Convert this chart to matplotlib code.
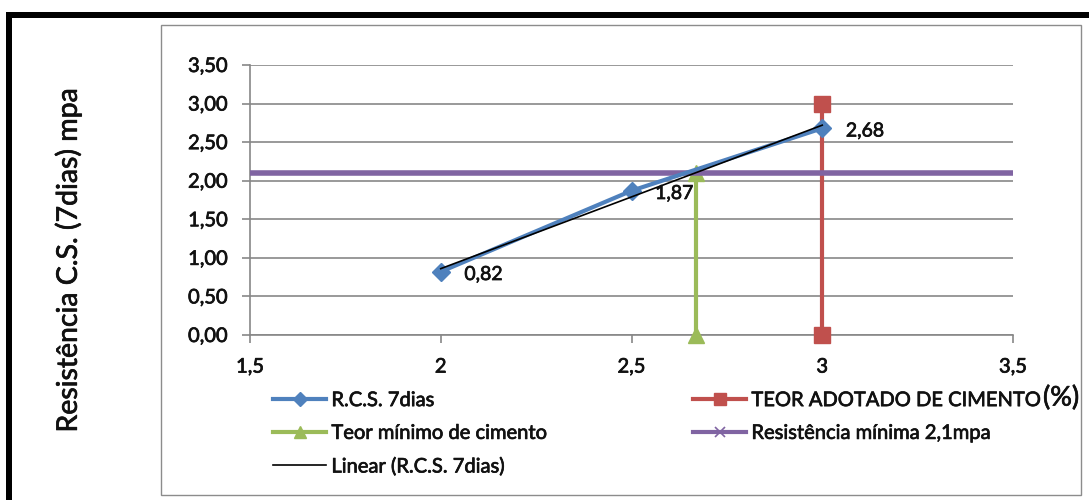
import numpy as np
import matplotlib.pyplot as plt
import matplotlib.patheffects as pe
from matplotlib.lines import Line2D
from matplotlib.patches import Rectangle

# teor de cimento (%) x resistencia aos 7 dias (mpa)
teor = [2, 2.5, 3]
rcs = [0.82, 1.87, 2.68]
rotulos = ["0,82", "1,87", "2,68"]

teor_adotado_x = [3, 3]
teor_adotado_y = [0, 3]
teor_minimo_x = [2.67, 2.67]
teor_minimo_y = [0, 2.1]
res_minima_x = [1.5, 3.5]
res_minima_y = [2.1, 2.1]

xticks = [1.5, 2, 2.5, 3, 3.5]
xlabels = ["1,5", "2", "2,5", "3", "3,5"]
yticks = [0, 0.5, 1, 1.5, 2, 2.5, 3, 3.5]
ylabels = ["0,00", "0,50", "1,00", "1,50", "2,00", "2,50", "3,00", "3,50"]

azul = "#4F81BD"
vermelho = "#C0504D"
verde = "#9BBB59"
roxo = "#8064A2"
cinza = "#878787"
texto = "#111111"

plt.rcParams['font.family'] = ['Lato', 'DejaVu Sans']
# traco fino em volta das letras para deixar o texto mais encorpado
grosso = [pe.withStroke(linewidth=0.5, foreground=texto)]

fig = plt.figure(figsize=(10.89, 5.0), dpi=100)

# moldura preta do documento e caixa cinza do grafico
fig.patches.append(Rectangle((6/1089, 482/500), 1, 6/500, transform=fig.transFigure,
                             facecolor="black", edgecolor="none"))
fig.patches.append(Rectangle((6/1089, 0), 6/1089, 488/500, transform=fig.transFigure,
                             facecolor="black", edgecolor="none"))
fig.patches.append(Rectangle((161/1089, 5/500), 920/1089, 470/500, transform=fig.transFigure,
                             facecolor="none", edgecolor="#8c8c8c", linewidth=1.0))

ax = fig.add_axes([250/1089, 165/500, 763/1089, 270/500])

ax.plot(teor_adotado_x, teor_adotado_y, color=vermelho, linewidth=3, marker="s",
        markersize=11.5, clip_on=False, zorder=3)
ax.plot(teor_minimo_x, teor_minimo_y, color=verde, linewidth=3, marker="^",
        markersize=11, clip_on=False, zorder=3.5)
ax.plot(res_minima_x, res_minima_y, color=roxo, linewidth=4, solid_capstyle="butt",
        clip_on=False, zorder=4)
ax.plot(teor, rcs, color=azul, linewidth=3, marker="D", markersize=9, zorder=5)

# linha de tendencia linear
a, b = np.polyfit(teor, rcs, 1)
xt = np.array([teor[0], teor[-1]])
ax.plot(xt, a*xt + b, color="black", linewidth=1.2, zorder=6)

for x, y, r in zip(teor, rcs, rotulos):
    ax.annotate(r, (x, y), xytext=(17, -2), textcoords="offset points",
                ha="left", va="center", fontsize=14, color=texto, zorder=7,
                path_effects=grosso)

ax.set_xlim(1.5, 3.5)
ax.set_ylim(0, 3.5)
ax.set_xticks(xticks)
ax.set_xticklabels(xlabels)
ax.set_yticks(yticks)
ax.set_yticklabels(ylabels)
ax.tick_params(axis="both", labelsize=14.5, colors=cinza, labelcolor=texto,
               length=6, width=1.2)
ax.tick_params(axis="x", pad=11)
ax.tick_params(axis="y", pad=10)
for t in ax.get_xticklabels() + ax.get_yticklabels():
    t.set_path_effects(grosso)
ax.grid(axis="y", color=cinza, linewidth=1.2)
ax.set_axisbelow(True)
for s in ["top", "right"]:
    ax.spines[s].set_visible(False)
for s in ["left", "bottom"]:
    ax.spines[s].set_color(cinza)
    ax.spines[s].set_linewidth(1.2)

fig.text(68/1089, 240/500, "Resistência C.S. (7dias) mpa", rotation=90,
         ha="center", va="center", fontsize=20.5, color=texto, path_effects=grosso)
fig.text(1043/1089, 102/500, "(%)", ha="left", va="center", fontsize=19.5,
         color=texto, path_effects=grosso)

h_rcs = Line2D([], [], color=azul, linewidth=3, marker="D", markersize=7)
h_min = Line2D([], [], color=verde, linewidth=3, marker="^", markersize=9)
h_lin = Line2D([], [], color="black", linewidth=1.2)
h_ado = Line2D([], [], color=vermelho, linewidth=3, marker="s", markersize=9)
h_res = Line2D([], [], color=roxo, linewidth=3, marker="x", markersize=7,
               markeredgewidth=1.2)

estilo = dict(frameon=False, fontsize=14.5, handlelength=2.65, handletextpad=0.25,
              labelspacing=0.78, borderpad=0, borderaxespad=0, loc="upper left")
leg1 = fig.legend([h_rcs, h_min, h_lin],
                  ["R.C.S. 7dias", "Teor mínimo de cimento", "Linear (R.C.S. 7dias)"],
                  bbox_to_anchor=(273/1089, 108/500), **estilo)
leg2 = fig.legend([h_ado, h_res],
                  ["TEOR ADOTADO DE CIMENTO", "Resistência mínima 2,1mpa"],
                  bbox_to_anchor=(693/1089, 108/500), **estilo)
for leg in (leg1, leg2):
    for t in leg.get_texts():
        t.set_color(texto)
        t.set_path_effects(grosso)

fig.savefig("out.png", dpi=100)
